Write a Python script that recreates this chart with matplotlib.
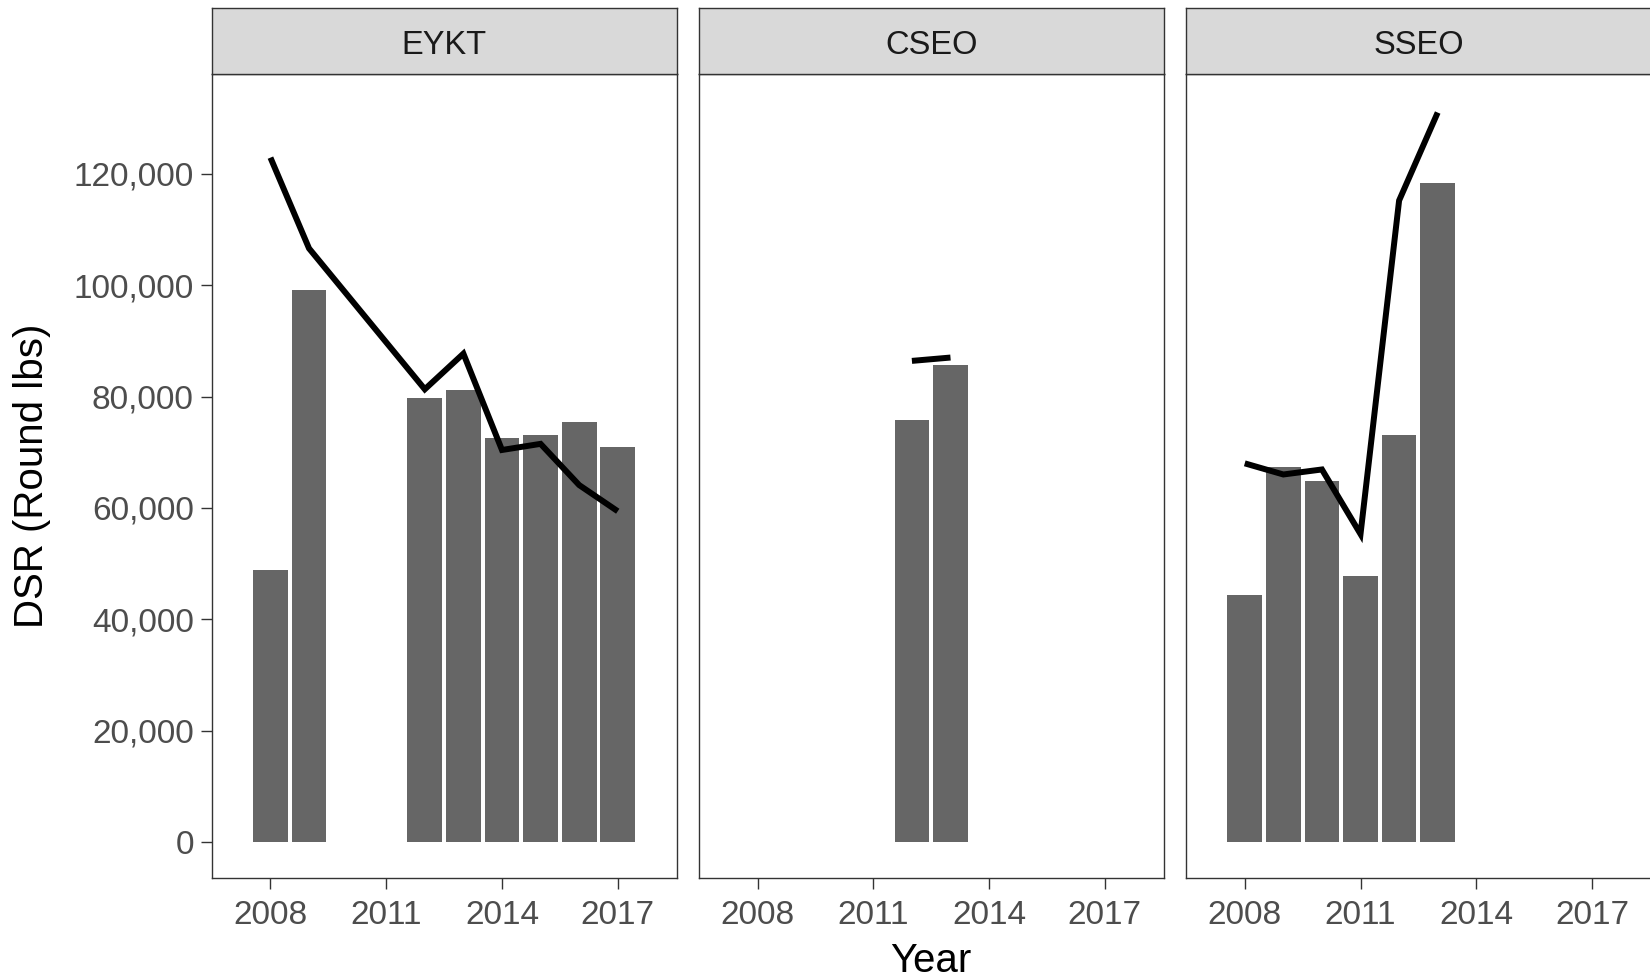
import matplotlib
matplotlib.use("Agg")
import matplotlib.pyplot as plt
from matplotlib.ticker import FuncFormatter

# ---- data ----
panels = ["EYKT", "CSEO", "SSEO"]

eykt_bar_years = [2008, 2009, 2012, 2013, 2014, 2015, 2016, 2017]
eykt_bar_vals = [48900, 99100, 79700, 81200, 72600, 73100, 75400, 70900]
eykt_line_years = [2008, 2009, 2012, 2013, 2014, 2015, 2016, 2017]
eykt_line_vals = [122900, 106600, 81300, 87700, 70400, 71500, 64100, 59400]

cseo_bar_years = [2012, 2013]
cseo_bar_vals = [75700, 85700]
cseo_line_years = [2012, 2013]
cseo_line_vals = [86400, 87000]

sseo_bar_years = [2008, 2009, 2010, 2011, 2012, 2013]
sseo_bar_vals = [44400, 67400, 64900, 47800, 73100, 118400]
sseo_line_years = [2008, 2009, 2010, 2011, 2012, 2013]
sseo_line_vals = [68000, 66000, 66900, 55300, 115200, 131000]

bar_years = [eykt_bar_years, cseo_bar_years, sseo_bar_years]
bar_vals = [eykt_bar_vals, cseo_bar_vals, sseo_bar_vals]
line_years = [eykt_line_years, cseo_line_years, sseo_line_years]
line_vals = [eykt_line_vals, cseo_line_vals, sseo_line_vals]

x_ticks = [2008, 2011, 2014, 2017]
y_ticks = [0, 20000, 40000, 60000, 80000, 100000, 120000]

# ---- layout ----
W, H = 1650, 977
plt.rcParams['font.family'] = ['Liberation Sans', 'DejaVu Sans']
fig = plt.figure(figsize=(W / 100, H / 100), dpi=100)
fig.patch.set_facecolor("white")

panel_left = [211.6, 698.7, 1185.9]
panel_w = 465.0
p_top, p_bot = 73.5, 878.0
s_top = 8.3

border = "#333333"
for i, name in enumerate(panels):
    l = panel_left[i]
    ax = fig.add_axes([l / W, 1 - p_bot / H, panel_w / W, (p_bot - p_top) / H])
    ax.bar(bar_years[i], bar_vals[i], width=0.9, color="#666666", edgecolor="none", zorder=2)
    ax.plot(line_years[i], line_vals[i], color="black", lw=4.3, solid_capstyle="butt",
            solid_joinstyle="miter", zorder=3)
    ax.set_xlim(2006.475, 2018.525)
    ax.set_ylim(-6465, 138010)
    ax.set_xticks(x_ticks)
    ax.set_xticklabels([str(t) for t in x_ticks])
    ax.set_yticks(y_ticks)
    ax.yaxis.set_major_formatter(FuncFormatter(lambda v, p: f"{int(v):,}"))
    ax.tick_params(axis="both", length=7.8, width=1.0, color=border,
                   labelsize=24, labelcolor="#4D4D4D")
    ax.tick_params(axis="x", pad=8)
    ax.tick_params(axis="y", pad=5)
    if i > 0:
        ax.tick_params(axis="y", left=False, labelleft=False)
    for sp in ax.spines.values():
        sp.set_color(border)
        sp.set_linewidth(1.0)
    ax.grid(False)

    sax = fig.add_axes([l / W, 1 - p_top / H, panel_w / W, (p_top - s_top) / H])
    sax.set_facecolor("#D9D9D9")
    sax.set_xticks([])
    sax.set_yticks([])
    for sp in sax.spines.values():
        sp.set_color(border)
        sp.set_linewidth(1.0)
    sax.text(0.5, 0.435, name, transform=sax.transAxes, ha="center", va="center",
             fontsize=23.5, color="#1A1A1A")

fig.text(931 / W, 1 - 961 / H, "Year", ha="center", va="center", fontsize=29, color="black")
fig.text(32.5 / W, 1 - 475.8 / H, "DSR (Round lbs)", ha="center", va="center",
         rotation=90, fontsize=29, color="black")

fig.savefig("out.png", dpi=100)
